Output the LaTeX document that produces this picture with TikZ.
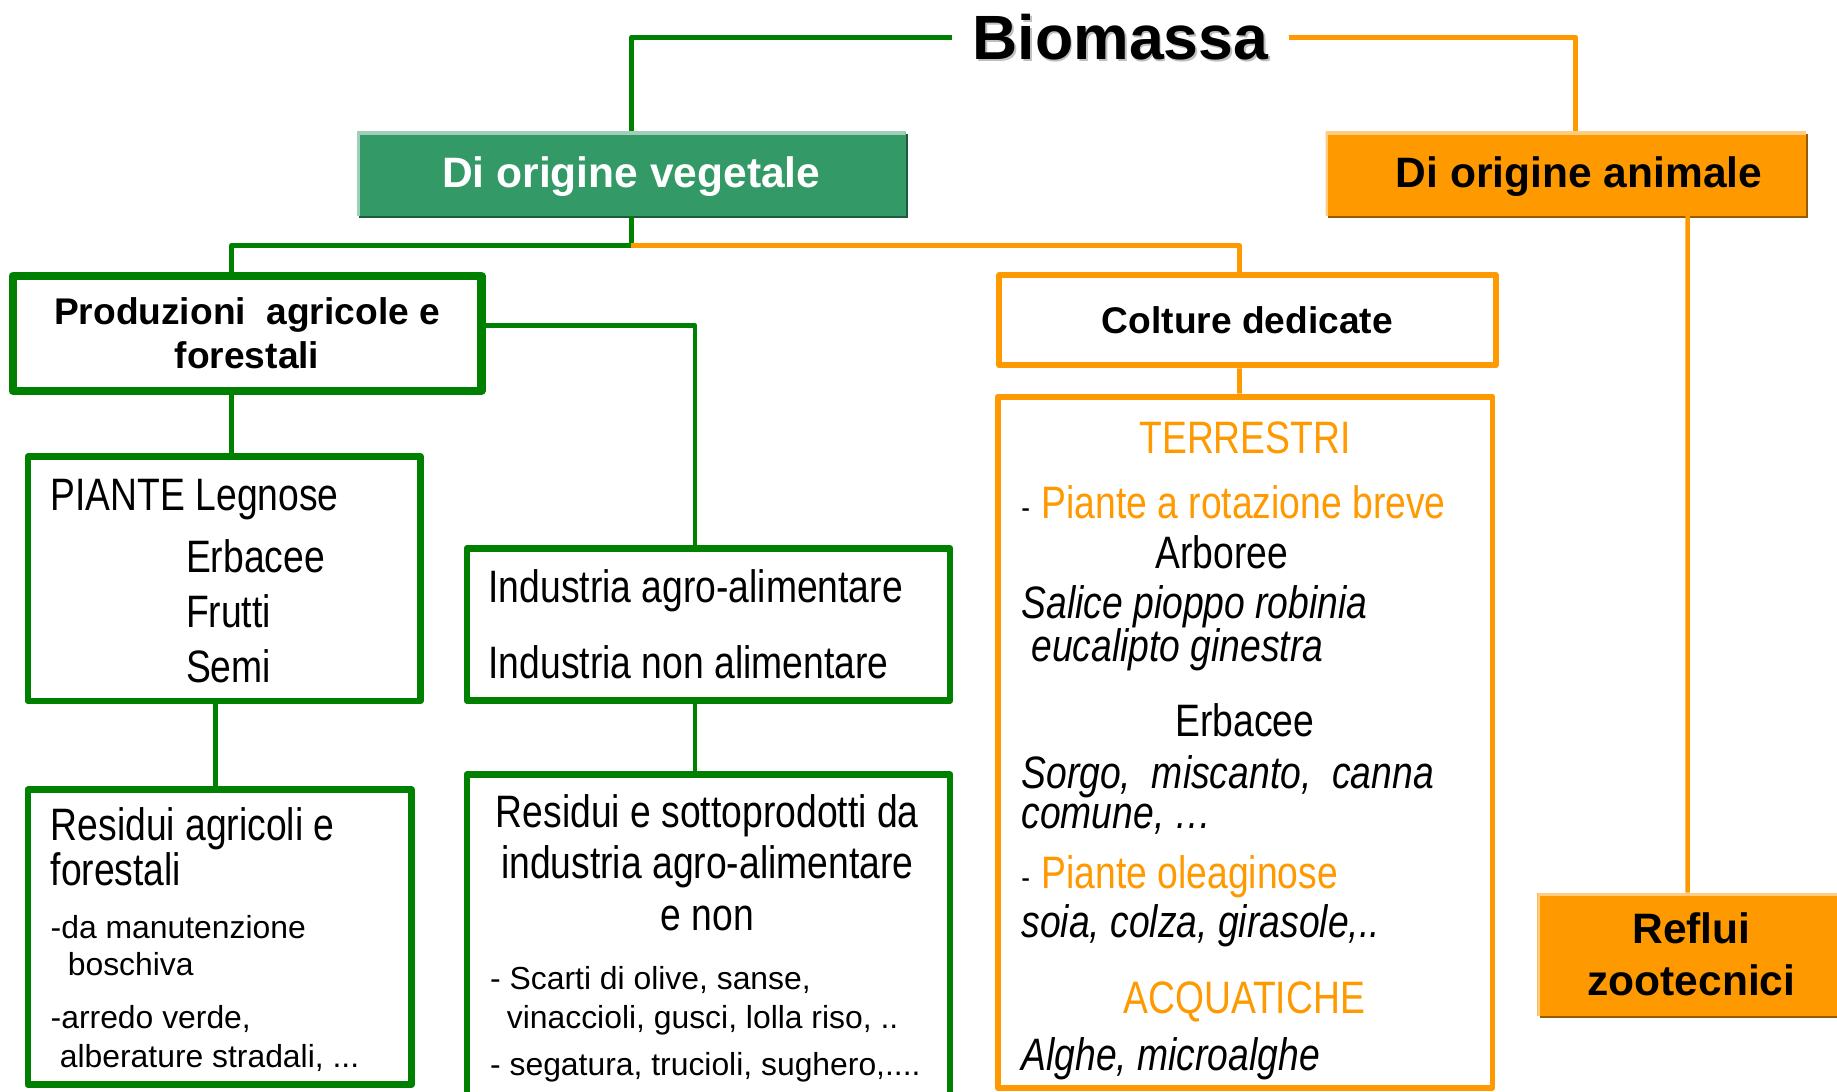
\documentclass[tikz,border=0pt]{standalone}
\usepackage{fontspec}
\setmainfont{Liberation Sans}
\newfontfamily\narrowfont[FakeStretch=0.82]{Liberation Sans}
\usetikzlibrary{shadows}

\definecolor{vgreen}{RGB}{0,128,0}
\definecolor{vfill}{RGB}{51,153,102}
\definecolor{vdark}{RGB}{28,92,60}
\definecolor{vlight}{RGB}{160,206,184}
\definecolor{aorange}{RGB}{255,153,0}
\definecolor{adark}{RGB}{150,92,0}
\definecolor{alight}{RGB}{255,204,128}

\newcommand{\dashitem}[1]{\makebox[8.6pt][l]{\fontsize{13.6pt}{16pt}\selectfont -}\textcolor{aorange}{#1}}

\begin{document}
\begin{tikzpicture}[
	x=0.5pt,
	y=-0.5pt,
	line join=round,
	gline/.style={
		draw=vgreen,
		line width=2pt
	},
	oline/.style={
		draw=aorange,
		line width=2pt
	},
	boxsize/.style 2 args={
		minimum width=#1*0.5pt,
		minimum height=#2*0.5pt
	},
	gbox/.style={
		rectangle,
		draw=vgreen,
		line width=2.75pt,
		fill=white,
		inner sep=0pt
	},
	obox/.style={
		rectangle,
		draw=aorange,
		line width=2.5pt,
		fill=white,
		inner sep=0pt
	},
	head/.style={
		rectangle,
		inner sep=0pt,
		font=\bfseries\fontsize{18.15pt}{22.3pt}\selectfont
	},
	vegbox/.style={
		head,
		fill=vfill,
		text=white,
		drop shadow={shadow xshift=0.9pt, shadow yshift=-0.9pt, fill=vdark, opacity=1},
		path picture={\draw[vlight, line width=2.3pt] (path picture bounding box.south west) |- (path picture bounding box.north east);}
	},
	anibox/.style={
		head,
		fill=aorange,
		text=black,
		drop shadow={shadow xshift=0.9pt, shadow yshift=-0.9pt, fill=adark, opacity=1},
		path picture={\draw[alight, line width=2.3pt] (path picture bounding box.south west) |- (path picture bounding box.north east);}
	},
	title/.style={
		align=center,
		font=\bfseries\fontsize{15.85pt}{18.9pt}\selectfont
	},
	ntext/.style={
		inner sep=0pt,
		anchor=base west,
		font=\narrowfont\fontsize{19.4pt}{23pt}\selectfont
	},
	itext/.style={
		ntext,
		font=\narrowfont\itshape\fontsize{19.4pt}{23pt}\selectfont
	},
	stext/.style={
		inner sep=0pt,
		anchor=base west,
		font=\fontsize{13.6pt}{16pt}\selectfont
	},
]

\useasboundingbox (0,0) rectangle (1568,932);
\clip (0,0) rectangle (1568,932);

\node[inner xsep=8.5pt, inner ysep=0pt, font=\bfseries\fontsize{26.7pt}{30pt}\selectfont] (bio) at (956.4,31.8)
	{\rlap{\hspace{0.7pt}\smash{\raisebox{-0.7pt}{\textcolor{black!25}{Biomassa}}}}Biomassa};

\node[vegbox, boxsize={468.3}{71.5}, text height=13.2pt, text depth=1.6pt] (veg) at (538.9,148.3) {Di origine vegetale};
\node[anibox, boxsize={410.2}{71.5}, text height=13.2pt, text depth=1.6pt] (ani) at (1336.6,148.3) {\hspace{11.2pt}Di origine animale};
\node[anibox, boxsize={262.8}{104.6}, align=center] (refl) at (1443.7,814.6) {Reflui\\zootecnici};

\node[gbox, title, line width=3.5pt, boxsize={400.2}{98}] (prod) at (210.9,284.5) {Produzioni\ \ agricole e\\forestali};
\node[obox, title, boxsize={423.8}{77}] (colt) at (1064.7,273.4) {Colture dedicate};

\node[gbox, boxsize={335.2}{208.5}] (pian) at (191.35,494) {};
\node[gbox, boxsize={327.5}{251.7}] (resA) at (187.5,799.9) {};
\node[gbox, boxsize={412.6}{129.9}] (ind) at (604.75,533) {};
\node[gbox, boxsize={412.6}{296}] (resB) at (604.75,809.25) {};
\node[obox, boxsize={422.3}{589.9}] (terr) at (1062.75,633.45) {};

\coordinate (fork) at (538.9,209.7);
\draw[gline] (bio.west) -| (veg.north);
\draw[oline] (bio.east) -| ([xshift=4.15pt]ani.north);
\draw[gline] (veg.south) -- (fork) -| ([xshift=-6.65pt]prod.north);
\draw[oline] (fork) -| ([xshift=-3.35pt]colt.north);
\draw[gline] ([yshift=3.25pt]prod.east) -| ([xshift=-5.775pt]ind.north);
\draw[gline] ([xshift=-6.65pt]prod.south) -- ([xshift=3.125pt]pian.north);
\draw[gline] ([xshift=-3.675pt]pian.south) -- ([xshift=-1.75pt]resA.north);
\draw[gline] ([xshift=-5.775pt]ind.south) -- ([xshift=-5.775pt]resB.north);
\draw[oline] ([xshift=-3.35pt]colt.south) -- ([xshift=-2.375pt]terr.north);
\draw[oline] ([xshift=51.95pt]ani.south) -- ([xshift=-1.6pt]refl.north);

\node[ntext] (pian0) at (42.9,436) {PIANTE Legnose};
\foreach \t/\y [count=\i] in {Erbacee/488.4, Frutti/535.9, Semi/582.4}
	\node[ntext] (pian\i) at (158.4,\y) {\t};

\foreach \t/\y [count=\i] in {Industria agro-alimentare/514, Industria non alimentare/579.1}
	\node[ntext] (ind\i) at (416.6,\y) {\t};

\node[ntext] (resA1) at (42.9,717) {Residui agricoli e};
\node[ntext] (resA2) at (42.9,755.4) {forestali};
\node[stext] (resA3) at (42.9,801.1) {-da manutenzione};
\node[stext] (resA4) at (57.5,833) {boschiva};
\node[stext] (resA5) at (42.9,878) {-arredo verde,};
\node[stext] (resA6) at (50.7,910.9) {alberature stradali, ...};

\foreach \t/\y [count=\i] in {Residui e sottoprodotti da/706, industria agro-alimentare/750, e non/794.6}
	\node[ntext, anchor=base] (resB\i) at (603.7,\y) {\t};
\node[stext] (resB4) at (418,845) {- Scarti di olive, sanse,};
\node[stext] (resB5) at (432.3,878) {vinaccioli, gusci, lolla riso, ..};
\node[stext] (resB6) at (418,918.2) {- segatura, trucioli, sughero,....};

\node[ntext, anchor=base, text=aorange] (terr1) at (1062.7,387.5) {TERRESTRI};
\node[ntext] (terr2) at (871.5,442.6) {\dashitem{Piante a rotazione breve}};
\node[ntext, anchor=base] (terr3) at (1042.9,485.2) {Arboree};
\node[itext] (terr4) at (871.5,527.8) {Salice pioppo robinia};
\node[itext] (terr5) at (879.9,564.6) {eucalipto ginestra};
\node[ntext, anchor=base] (terr6) at (1062.5,628.6) {Erbacee};
\node[itext] (terr7) at (871.5,673.2) {Sorgo,\ \ miscanto,\ \ canna};
\node[itext] (terr8) at (871.5,707) {comune, …};
\node[ntext] (terr9) at (871.5,758.5) {\dashitem{Piante oleaginose}};
\node[itext] (terr10) at (871.5,800.3) {soia, colza, girasole,..};
\node[ntext, anchor=base, text=aorange] (terr11) at (1062,865) {ACQUATICHE};
\node[itext] (terr12) at (871.5,913.5) {Alghe, microalghe};

\end{tikzpicture}
\end{document}
